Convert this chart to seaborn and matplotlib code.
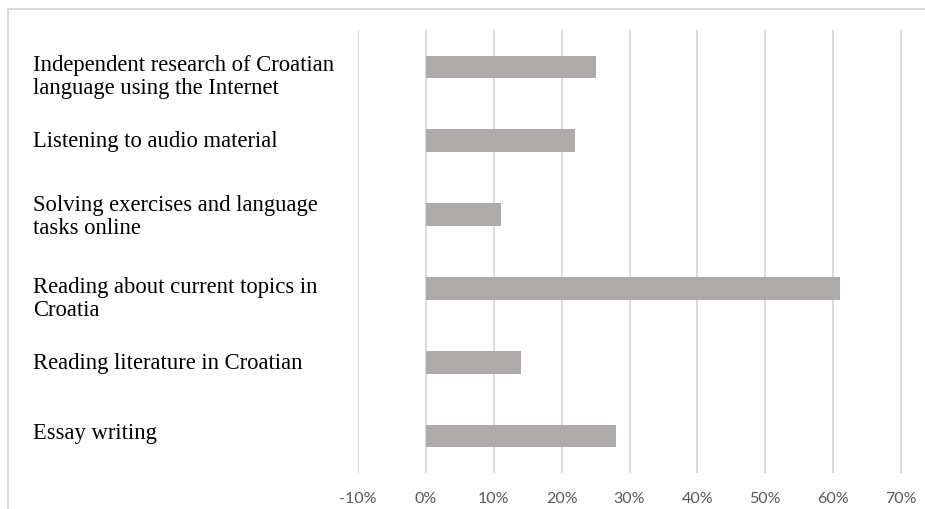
import matplotlib
matplotlib.use("Agg")
import matplotlib.pyplot as plt
import seaborn as sns
import pandas as pd
from matplotlib.transforms import blended_transform_factory, offset_copy
from matplotlib.patches import Rectangle

# ---- data ----
categories = [
    "Independent research of Croatian\nlanguage using the Internet",
    "Listening to audio material",
    "Solving exercises and language\ntasks online",
    "Reading about current topics in\nCroatia",
    "Reading literature in Croatian",
    "Essay writing",
]
values = [0.25, 0.22, 0.11, 0.61, 0.14, 0.28]
x_ticks = [-0.1, 0.0, 0.1, 0.2, 0.3, 0.4, 0.5, 0.6, 0.7]
x_tick_labels = ["-10%", "0%", "10%", "20%", "30%", "40%", "50%", "60%", "70%"]

# ---- style / layout ----
label_nudge_px = [9, 0, 1.5, 9.5, 0, -3.5]   # downward nudges of category labels
W, H = 925, 510

sns.set_theme(style="white")
fig = plt.figure(figsize=(W / 100, H / 100), dpi=100)
fig.patch.set_facecolor("white")

ax_left, ax_right, ax_top, ax_bottom = 357.5, 901.5, 31, 474
ax = fig.add_axes([ax_left / W, 1 - ax_bottom / H,
                   (ax_right - ax_left) / W, (ax_bottom - ax_top) / H])

df = pd.DataFrame({"category": categories, "value": values})
sns.barplot(data=df, x="value", y="category", orient="h", color="#adaaa9",
            saturation=1, width=0.305, linewidth=0, ax=ax, zorder=3)

ax.set_xlim(-0.1008, 0.7008)
ax.set_ylim(5.5, -0.5)
ax.set_xticks(x_ticks)
ax.set_xticklabels(x_tick_labels, fontfamily="Lato", fontsize=11.5, color="#595959")
ax.tick_params(axis="x", length=0, pad=13)
ax.set_yticks([])
ax.set_xlabel("")
ax.set_ylabel("")
ax.grid(axis="x", color="#d9d9d9", linewidth=1.3)
ax.set_axisbelow(True)
for s in ax.spines.values():
    s.set_visible(False)
ax.patch.set_alpha(0)

base = blended_transform_factory(fig.transFigure, ax.transData)
for i, (lab, dy) in enumerate(zip(categories, label_nudge_px)):
    tr = offset_copy(base, fig=fig, x=0, y=-dy, units="dots")
    ax.text(33 / W, i, lab, transform=tr, ha="left", va="center",
            fontfamily="Liberation Serif", fontsize=16.3, linespacing=1.15,
            color="black")

# outer chart frame (top and left edges visible)
fig.add_artist(Rectangle((7.5 / W, -0.1), 1.2, (1 - 9.5 / H) + 0.1,
                         transform=fig.transFigure, fill=False,
                         edgecolor="#d9d9d9", linewidth=1.3))

fig.savefig("out.png", dpi=100)
